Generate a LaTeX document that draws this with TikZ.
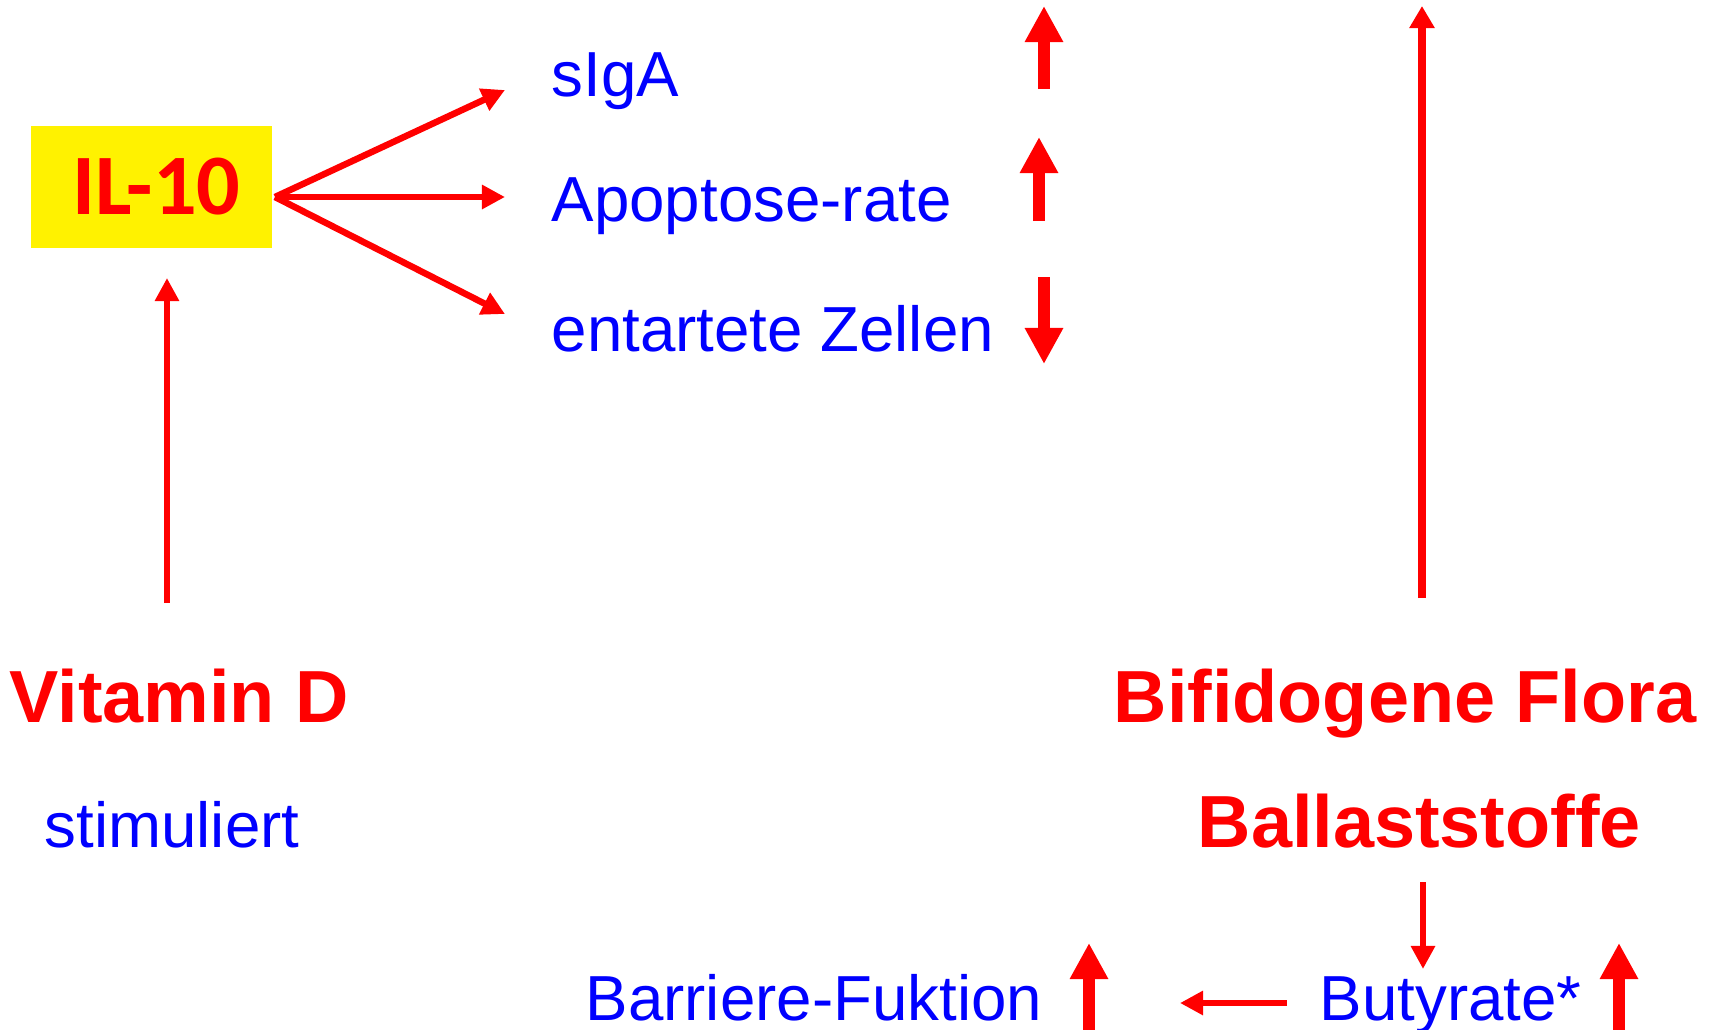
\documentclass[tikz,border=0pt]{standalone}
\usepackage{fontspec}
\setmainfont{Liberation Sans}
\newfontfamily\calib{Carlito}
\usetikzlibrary{arrows.meta}
\begin{document}
\begin{tikzpicture}[x=0.01cm,y=-0.01cm,
  bluetxt/.style={text=blue,font=\fontsize{18.1pt}{21pt}\selectfont,inner sep=0pt,anchor=base west},
  redtxt/.style={text=red,font=\bfseries\fontsize{21pt}{25pt}\selectfont,inner sep=0pt,anchor=base west},
  thinarrow/.style={draw=red,line width=0.065cm,-{Triangle[length=0.23cm,width=0.23cm]}},
  longarrow/.style={draw=red,line width=0.08cm,-{Triangle[length=0.22cm,width=0.24cm]}},
  bigarrow/.style={draw=red,line width=0.12cm,-{Triangle[length=0.36cm,width=0.36cm]}},
]
\useasboundingbox (0,0) rectangle (1711,1030);

% IL-10 box
\node[fill=yellow,minimum width=2.41cm,minimum height=1.22cm,inner sep=0pt,
      text=red,font=\calib\bfseries\fontsize{24.5pt}{28pt}\selectfont] (il10) at (151.5,187) {\hspace*{0.1cm}IL-10};

% blue texts
\node[bluetxt] (siga) at (551,96) {sIgA};
\node[bluetxt] (apo) at (551,221) {Apoptose-rate};
\node[bluetxt] (ent) at (551,351) {entartete Zellen};
\node[bluetxt] (stim) at (44,847) {stimuliert};
\node[bluetxt] (barr) at (585,1020) {Barriere-Fuktion};
\node[bluetxt] (buty) at (1319,1020) {Butyrate*};

% red bold texts
\node[redtxt] (vitd) at (9,722) {Vitamin D};
\node[redtxt] (bifi) at (1113,722) {Bifidogene Flora};
\node[redtxt] (ball) at (1197,847) {Ballaststoffe};

% connector end points
\coordinate (src) at (275,197);
\coordinate (tsiga) at (505,90);
\coordinate (tapo) at (505,197);
\coordinate (tent) at (505,314);
\coordinate (vitdtop) at (167,603);
\coordinate (il10bot) at (167,278);
\coordinate (bifitop) at (1422,598);
\coordinate (topend) at (1422,6);
\coordinate (ballbot) at (1423,882);
\coordinate (butytop) at (1423,969);
\coordinate (butyleft) at (1287,1003);
\coordinate (barrright) at (1180,1003);

\draw[thinarrow] (src) -- (tsiga);
\draw[thinarrow] (src) -- (tapo);
\draw[thinarrow] (src) -- (tent);
\draw[thinarrow] (vitdtop) -- (il10bot);
\draw[longarrow] (bifitop) -- (topend);
\draw[thinarrow] (ballbot) -- (butytop);
\draw[thinarrow] (butyleft) -- (barrright);

% indicator arrows
\coordinate (s1a) at (1044,89);  \coordinate (s1b) at (1044,6);
\coordinate (s2a) at (1039,221); \coordinate (s2b) at (1039,137);
\coordinate (s3a) at (1044,277); \coordinate (s3b) at (1044,364);
\coordinate (s4a) at (1089,1030); \coordinate (s4b) at (1089,943);
\coordinate (s5a) at (1619,1030); \coordinate (s5b) at (1619,943);
\draw[bigarrow] (s1a) -- (s1b);
\draw[bigarrow] (s2a) -- (s2b);
\draw[bigarrow] (s3a) -- (s3b);
\draw[bigarrow] (s4a) -- (s4b);
\draw[bigarrow] (s5a) -- (s5b);
\end{tikzpicture}
\end{document}
